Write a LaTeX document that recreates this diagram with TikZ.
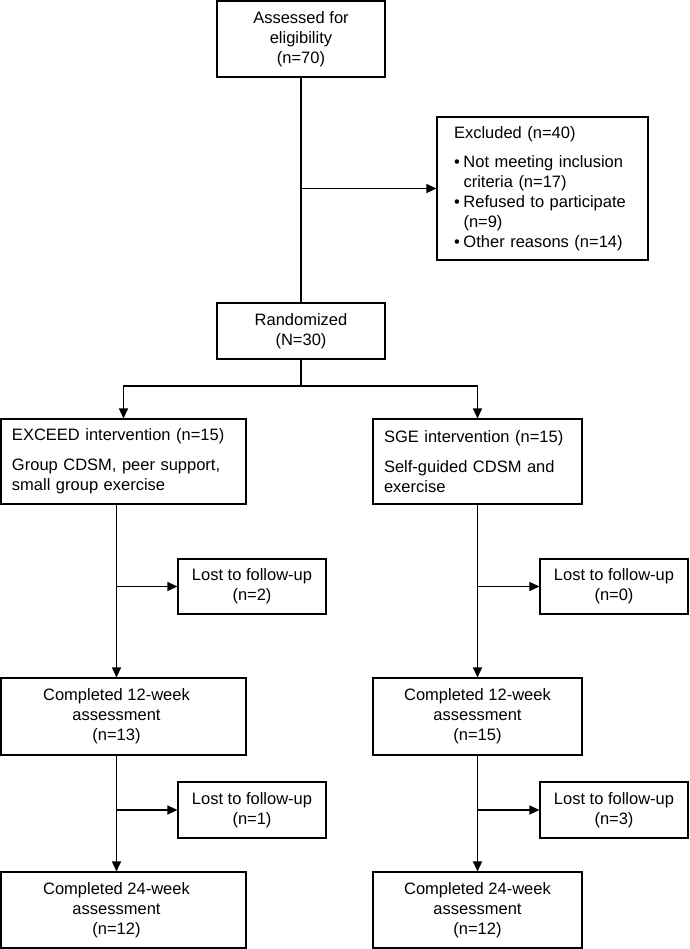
\documentclass[tikz,border=0pt]{standalone}
\usepackage{fontspec}
\setmainfont{Liberation Sans}
\usetikzlibrary{arrows.meta}
\begin{document}
\begin{tikzpicture}[x=1pt,y=-1pt]
 \tikzset{box/.style={draw, line width=1.1pt, inner sep=0pt, align=center, font=\fontsize{16.5}{20}\selectfont},
   boxtext/.style={inner sep=0pt, align=center, font=\fontsize{16.5}{20}\selectfont},
   directed/.style={line width=1.1pt, -{Triangle[length=10pt,width=9pt]}},
   plain/.style={line width=1.1pt}}
  \useasboundingbox (0,0) rectangle (689,949);
  \node[box, minimum width=168pt, minimum height=76pt] (assess) at (301,39) {Assessed for\\eligibility\\(n=70)};
  \node[box, align=left, text width=177pt, inner xsep=17pt, minimum height=143pt] (excl) at (542.5,188.5) {Excluded (n=40)\\[9pt]\makebox[9.5pt][l]{•}Not meeting inclusion\\\hspace*{9.5pt}criteria (n=17)\\\makebox[9.5pt][l]{•}Refused to participate\\\hspace*{9.5pt}(n=9)\\\makebox[9.5pt][l]{•}Other reasons (n=14)};
  \node[box, minimum width=168pt, minimum height=56pt] (rand) at (301,331) {Randomized\\(N=30)};
  \coordinate (split) at (301,386);
  \coordinate (colA) at (116.5,0);
  \node[box, align=left, text width=223pt, inner xsep=11pt, minimum height=85pt] (exc) at (123.5,461.5) {EXCEED intervention (n=15)\\[10pt]Group CDSM, peer support,\\small group exercise};
  \node[box, align=left, text width=187pt, inner xsep=11pt, minimum height=85pt] (sge) at (477.5,461.5) {SGE intervention (n=15)\\[10pt]Self-guided CDSM and\\exercise};
  \node[box, minimum width=148pt, minimum height=55pt] (lostA) at (252,586.5) {Lost to follow-up\\(n=2)};
  \node[box, minimum width=148pt, minimum height=55pt] (lostB) at (614,586.5) {Lost to follow-up\\(n=0)};
  \node[box, minimum width=245pt, minimum height=77pt, label={[boxtext, xshift=-7pt]center:Completed 12-week\\assessment\\(n=13)}] (compA) at (123.5,716.5) {};
  \node[box, minimum width=209pt, minimum height=77pt] (compB) at (477.5,716.5) {Completed 12-week\\assessment\\(n=15)};
  \node[box, minimum width=148pt, minimum height=56pt] (lostC) at (252,810) {Lost to follow-up\\(n=1)};
  \node[box, minimum width=148pt, minimum height=56pt] (lostD) at (614,810) {Lost to follow-up\\(n=3)};
  \node[box, minimum width=245pt, minimum height=76pt, label={[boxtext, xshift=-7pt]center:Completed 24-week\\assessment\\(n=12)}] (finA) at (123.5,910) {};
  \node[box, minimum width=209pt, minimum height=76pt] (finB) at (477.5,910) {Completed 24-week\\assessment\\(n=12)};
  \draw[plain] (assess) -- (rand);
  \draw[directed] (excl.west -| assess.south) -- (excl.west);
  \draw[plain] (rand.south) -- (split);
  \draw[directed] (split) -| (exc.north);
  \draw[directed] (split) -| (sge.north);
  \draw[directed] (exc.south -| colA) -- (compA.north -| colA);
  \draw[directed] (lostA.west -| colA) -- (lostA.west);
  \draw[directed] (sge.south) -- (compB.north);
  \draw[directed] (lostB.west -| sge.south) -- (lostB.west);
  \draw[directed] (compA.south -| colA) -- (finA.north -| colA);
  \draw[directed] (lostC.west -| colA) -- (lostC.west);
  \draw[directed] (compB.south) -- (finB.north);
  \draw[directed] (lostD.west -| compB.south) -- (lostD.west);
\end{tikzpicture}
\end{document}
